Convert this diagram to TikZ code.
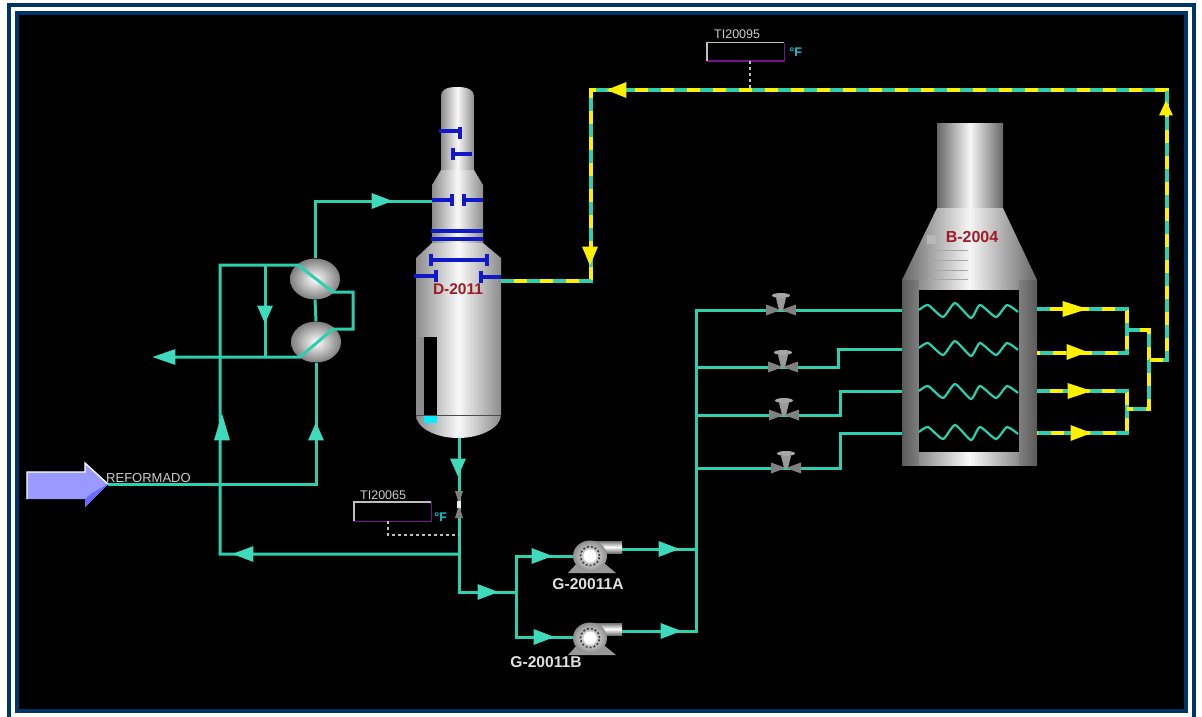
\documentclass[tikz,border=0pt]{standalone}
\usepackage{fontspec}
\setmainfont{Liberation Sans}
\usetikzlibrary{calc,positioning,shapes.geometric}

\definecolor{framecol}{HTML}{003366}
\definecolor{pipecol}{HTML}{2ECFAE}
\definecolor{tipcol}{HTML}{3FD9BC}
\definecolor{hotcol}{HTML}{FFF000}
\definecolor{traycol}{HTML}{1018C8}
\definecolor{tagred}{HTML}{9C1C28}
\definecolor{feedcol}{HTML}{9999FF}
\definecolor{boxpurple}{HTML}{74128C}
\definecolor{levelcol}{HTML}{00F0FF}
\definecolor{unitcol}{HTML}{10C8D8}

\tikzset{
	pipe/.style={draw=pipecol,line width=3pt,line join=miter},
	hotpipe/.style={draw=hotcol,line width=3.6pt,postaction={draw=pipecol,line width=3.6pt,dash pattern=on 13pt off 13pt}},
	flowtip/.style={isosceles triangle,isosceles triangle apex angle=50,isosceles triangle stretches,
		fill=tipcol,inner sep=0pt,minimum height=21pt,minimum width=16pt,anchor=apex},
	hottip/.style={flowtip,fill=hotcol},
	tray/.style={draw=traycol,line width=3.2pt},
	idtag/.style={text=tagred,font=\fontsize{15.5}{17}\selectfont\bfseries,inner sep=0pt},
	pumptag/.style={text=white!88!black,font=\fontsize{15.6}{17}\selectfont\bfseries,inner sep=0pt},
	smalltag/.style={text=white!80!black,font=\fontsize{12.5}{14}\selectfont,inner sep=0pt},
	unittag/.style={text=unitcol,font=\fontsize{12.5}{14}\selectfont\bfseries,inner sep=0pt},
	exch/.style={ellipse,minimum width=50pt,minimum height=41pt,inner sep=0pt,
		inner color=white,outer color=black!50},
	pumpbody/.style={ellipse,minimum width=34pt,minimum height=31pt,inner sep=0pt,inner color=white,outer color=black!45},
	steel/.style={left color=black!45,right color=black!45,middle color=white!95!gray},
	darksteel/.style={left color=black!60,right color=black!60,middle color=white!93!gray},
	probe/.style={draw=white!75!black,line width=1.2pt,dash pattern=on 3pt off 3pt},
	readout/.style={minimum width=77pt,minimum height=19pt,inner sep=0pt}
}

\begin{document}
\begin{tikzpicture}[x=1pt,y=-1pt]
	\useasboundingbox (0,0) rectangle (1202,717);
	% frame
	\fill[white] (0,0) rectangle (1202,717);
	\fill[framecol] (7,3) rectangle (1196,717);
	\fill[white] (11,7) rectangle (1192,717);
	\fill[framecol] (15,11) rectangle (1188,713);
	\fill[black] (19,15) rectangle (1184,709);

	% column
	\path[steel] (441,170) -- (441,96) .. controls (441,90) and (446,87) .. (457,87)
		.. controls (468,87) and (474,90) .. (474,96) -- (474,170) -- cycle;
	\path[steel] (441,170) -- (474,170) -- (483,185) -- (432,185) -- cycle;
	\path[steel] (432,185) rectangle (483,243);
	\path[steel] (432,243) -- (483,243) -- (501,258) -- (416,258) -- cycle;
	\path[steel] (416,258) -- (501,258) -- (501,415) .. controls (501,428) and (480,438) .. (458,438)
		.. controls (436,438) and (416,428) .. (416,415) -- cycle;
	\fill[black!45] (416,337) rectangle (424,415);
	\fill[black] (424,337) rectangle (437,415);
	\fill[levelcol] (424,416) rectangle (437,423);
	\draw[black!70,line width=.8pt] (416,415) -- (501,415);
	\draw[tray] (439,131) -- (460,131) (460,127) -- (460,139);
	\draw[tray] (453,154) -- (472,154) (453,148) -- (453,160);
	\draw[tray] (432,200) -- (452,200) (452,194) -- (452,206);
	\draw[tray] (464,200) -- (483,200) (464,194) -- (464,206);
	\draw[tray] (431,231) -- (483,231) (431,239) -- (483,239);
	\draw[tray] (431,260) -- (487,260) (431,254) -- (431,266) (487,254) -- (487,266);
	\draw[tray] (414,276) -- (436,276) (436,270) -- (436,282);
	\draw[tray] (481,277) -- (501,277) (481,271) -- (481,283);
	\node[idtag] (d2011) at (458,289) {D-2011};

	% furnace
	\path[darksteel] (937,123) rectangle (1003,208);
	\path[darksteel] (937,208) -- (1003,208) -- (1037,280) -- (902,280) -- cycle;
	\fill[left color=black!65,right color=black!50] (902,280) rectangle (919,465);
	\fill[left color=black!50,right color=black!65] (1019,280) rectangle (1037,465);
	\path[steel] (919,280) rectangle (1019,290);
	\path[steel] (919,452) rectangle (1019,465);
	\fill[black] (919,290) rectangle (1019,452);
	\fill[white!72!black] (927,235) rectangle (936,244);
	\foreach \ly in {250,260,270,279}
		\draw[gray!70,line width=.8pt] (928,\ly) -- (968,\ly);
	\node[idtag,font=\fontsize{16}{18}\selectfont\bfseries] (b2004) at (972,237) {B-2004};

	% exchangers and pumps
	\node[exch] (e_1) at (315,279) {};
	\node[exch] (e_2) at (316,342) {};
	\path[top color=black!55,bottom color=black!55,middle color=white] (590,541) rectangle (622,553);
	\path[top color=black!55,bottom color=black!55,middle color=white] (590,623) rectangle (622,635);
	\fill[gray!80] (580,560) -- (600,560) -- (616,573) -- (568,573) -- cycle;
	\fill[gray!80] (580,642) -- (600,642) -- (616,655) -- (568,655) -- cycle;
	\node[pumpbody] (p_a) at (590,556) {};
	\node[pumpbody] (p_b) at (590,638) {};
	\foreach \pm in {p_a,p_b} {
		\draw[black!75,line width=1.6pt,dash pattern=on 2pt off 2pt] (\pm) circle (9.5pt);
		\fill[white] (\pm) circle (6.5pt);
	}
	\node[pumptag] (tag_a) at (588,584) {G-20011A};
	\node[pumptag] (tag_b) at (546,662) {G-20011B};

	% junctions
	\coordinate (feed) at (108,484);
	\coordinate (j_b) at (316,484);
	\coordinate (j_c) at (220,265);
	\coordinate (j_d) at (265,265);
	\coordinate (j_e) at (298,265);
	\coordinate (j_f) at (333,292);
	\coordinate (j_g) at (353,292);
	\coordinate (j_h) at (353,329);
	\coordinate (j_i) at (333,329);
	\coordinate (j_j) at (300,357);
	\coordinate (j_k) at (265,357);
	\coordinate (j_end) at (165,357);
	\coordinate (top_in) at (432,201);
	\coordinate (bot_out) at (459,438);
	\coordinate (j_m) at (459,554);
	\coordinate (j_n) at (220,554);
	\coordinate (j_o) at (459,592);
	\coordinate (j_p) at (516,592);
	\coordinate (j_q) at (516,556);
	\coordinate (j_r) at (516,637);
	\coordinate (out_a) at (622,549);
	\coordinate (out_b) at (622,631);
	\coordinate (h_a) at (696,549);
	\coordinate (h_b) at (696,631);
	\coordinate (h_top) at (696,310);
	\coordinate (h_2) at (696,367);
	\coordinate (h_3) at (696,415);
	\coordinate (h_4) at (696,468);

	% reformer feed
	\draw[pipe] (feed) -- (j_b) -- (e_2.south);
	\draw[pipe] (e_2.north) -- (e_1.south);
	\draw[pipe] (e_1.north) |- (top_in);
	\draw[pipe] (j_m) -- (j_n) -- (j_c) -- (j_e) -- (j_f) -- (j_g) -- (j_h) -- (j_i) -- (j_j) -- (j_end);
	\draw[pipe] (j_d) -- (j_k);
	\draw[pipe] (bot_out) -- (j_o) -- (j_p);
	\draw[pipe] (p_a.west |- j_q) -- (j_q) -- (j_r) -- (p_b.west |- j_r);
	\draw[pipe] (out_a) -- (h_a);
	\draw[pipe] (out_b) -- (h_b) -- (h_top) -- (902,310);
	\draw[pipe] (h_2) -- (838,367) -- (838,349) -- (902,349);
	\draw[pipe] (h_3) -- (840,415) -- (840,391) -- (902,391);
	\draw[pipe] (h_4) -- (840,468) -- (840,433) -- (902,433);

	% coils
	\foreach \cy in {310,348,391,432}
		\draw[draw=pipecol,line width=2.2pt,line join=round] plot[smooth,tension=.35] coordinates {
			(919,\cy) (928,\cy-5) (943,\cy+7) (955,\cy-7) (971,\cy+8)
			(980,\cy-5) (996,\cy+7) (1007,\cy-5) (1018,\cy+2)};

	% hot outlet
	\coordinate (r_1) at (1037,309);
	\coordinate (r_2) at (1037,353);
	\coordinate (r_3) at (1037,391);
	\coordinate (r_4) at (1037,433);
	\coordinate (c_1) at (1127,309);
	\coordinate (c_2) at (1127,353);
	\coordinate (c_3) at (1127,391);
	\coordinate (c_4) at (1127,433);
	\coordinate (c_5) at (1127,330);
	\coordinate (c_6) at (1149,330);
	\coordinate (c_7) at (1127,409);
	\coordinate (c_8) at (1149,409);
	\coordinate (c_9) at (1149,360);
	\coordinate (c_10) at (1167,360);
	\coordinate (c_11) at (1167,90);
	\coordinate (c_12) at (591,90);
	\coordinate (c_13) at (591,281);
	\coordinate (c_14) at (501,281);
	\draw[hotpipe] (r_1) -- (c_1) -- (c_2) -- (r_2);
	\draw[hotpipe] (r_3) -- (c_3) -- (c_4) -- (r_4);
	\draw[hotpipe] (c_5) -- (c_6) -- (c_8) -- (c_7);
	\draw[hotpipe] (c_14) -- (c_13) -- (c_12) -- (c_11) -- (c_10) -- (c_9);

	% valves
	\foreach \vn/\vx/\vy in {v_1/781/310,v_2/783/367,v_3/784/415,v_4/786/468} {
		\coordinate (\vn) at (\vx,\vy);
		\fill[black!50] ($(\vn)+(-15,-5.5)$) -- ($(\vn)+(15,5.5)$) -- ($(\vn)+(15,-5.5)$) -- ($(\vn)+(-15,5.5)$) -- cycle;
		\fill[black!40] ($(\vn)+(-5,-12)$) -- ($(\vn)+(5,-12)$) -- ($(\vn)+(2,0)$) -- ($(\vn)+(-2,0)$) -- cycle;
		\fill[black!35] ($(\vn)+(0,-14.5)$) ellipse (9pt and 2.5pt);
	}
	\fill[black!50] (455,491) -- (463,491) -- (459,504) -- cycle;
	\fill[black!50] (455,518) -- (463,518) -- (459,505) -- cycle;
	\fill[white!85!gray] (457,501) rectangle (461,508);

	% feed arrow
	\fill[feedcol] (27,472) -- (85,472) -- (85,463) -- (108,484) -- (85,507) -- (85,499) -- (27,499) -- cycle;
	\fill[feedcol!70!blue] (108,484) -- (85,507) -- (85,499) -- (92,493) -- cycle;
	\draw[white,line width=1.3pt] (27,499) -- (27,472) -- (85,472) -- (85,463) -- (108,484);
	\node[smalltag,anchor=west,font=\fontsize{13}{15}\selectfont] (feedtag) at (106,478) {REFORMADO};

	% flow tips
	\node[flowtip,shape border rotate=0] (t_1) at (393,201) {};
	\node[flowtip,shape border rotate=270,minimum height=18pt] (t_2) at (265,324) {};
	\node[flowtip,shape border rotate=180,minimum height=23pt] (t_3) at (152,357) {};
	\node[flowtip,shape border rotate=90,minimum height=27pt] (t_4) at (222,413) {};
	\node[flowtip,shape border rotate=90,minimum height=18pt] (t_5) at (316,422) {};
	\node[flowtip,shape border rotate=270,minimum height=18pt] (t_6) at (458,477) {};
	\node[flowtip,shape border rotate=180] (t_7) at (232,554) {};
	\node[flowtip,shape border rotate=0] (t_8) at (499,592) {};
	\node[flowtip,shape border rotate=0] (t_9) at (553,556) {};
	\node[flowtip,shape border rotate=0] (t_10) at (555,637) {};
	\node[flowtip,shape border rotate=0] (t_11) at (680,549) {};
	\node[flowtip,shape border rotate=0] (t_12) at (682,631) {};
	\node[hottip,shape border rotate=0,minimum height=25pt] (h_5) at (1088,309) {};
	\node[hottip,shape border rotate=0] (h_6) at (1088,352) {};
	\node[hottip,shape border rotate=0,minimum height=24pt] (h_7) at (1092,391) {};
	\node[hottip,shape border rotate=0] (h_8) at (1092,433) {};
	\node[hottip,shape border rotate=90,minimum height=15pt,minimum width=14pt] (h_9) at (1166,100) {};
	\node[hottip,shape border rotate=180,minimum height=20pt] (h_10) at (606,90) {};
	\node[hottip,shape border rotate=270,minimum height=19pt] (h_11) at (590,266) {};

	% readouts
	\node[readout] (ti_a) at (392.5,511.5) {};
	\draw[boxpurple,line width=1.4pt] (ti_a.north east) -- (ti_a.south east) -- (ti_a.south west);
	\draw[white!75!black,line width=1.4pt] (ti_a.south west) -- (ti_a.north west) -- (ti_a.north east);
	\node[smalltag,anchor=south west] (ti_a_tag) at (360,500) {TI20065};
	\node[unittag,right=3pt of ti_a.south east,anchor=south west] (ti_a_unit) {°F};
	\coordinate (ti_a_c) at (388,535);
	\draw[probe] (388,521) -- (ti_a_c) -- (j_m |- ti_a_c);

	\node[readout,minimum height=18pt] (ti_b) at (745.5,52) {};
	\draw[boxpurple,line width=1.4pt] (ti_b.north east) -- (ti_b.south east) -- (ti_b.south west);
	\draw[white!75!black,line width=1.4pt] (ti_b.south west) -- (ti_b.north west) -- (ti_b.north east);
	\node[smalltag,anchor=south west] (ti_b_tag) at (714,39) {TI20095};
	\node[unittag,right=5pt of ti_b.east,anchor=west] (ti_b_unit) {°F};
	\coordinate (ti_b_c) at (750,61);
	\draw[probe] (ti_b_c) -- (ti_b_c |- c_12);
\end{tikzpicture}
\end{document}
